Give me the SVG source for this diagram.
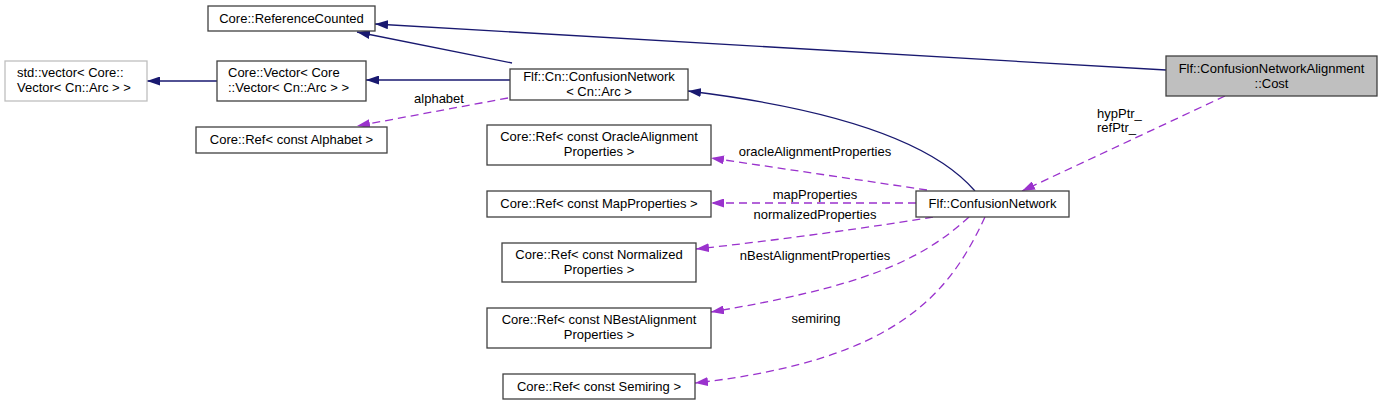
<svg xmlns="http://www.w3.org/2000/svg" width="1383" height="405" viewBox="0 0 1383 405">
<style>
text{font-family:"Liberation Sans",Arial,sans-serif;font-size:13px;fill:#000}
.c{text-anchor:middle}
.n{fill:#fff;stroke:#404040;stroke-width:1.3}
.g{fill:#fff;stroke:#bfbfbf;stroke-width:1.3}
.h{fill:#bfbfbf;stroke:#404040;stroke-width:1.3}
.inh{fill:none;stroke:#191970;stroke-width:1.3;marker-end:url(#an)}
.use{fill:none;stroke:#9a32cd;stroke-width:1.3;stroke-dasharray:8,5;marker-end:url(#ap)}
</style>
<defs>
<marker id="an" viewBox="0 0 13 9" refX="13" refY="4.5" markerWidth="13" markerHeight="9" markerUnits="userSpaceOnUse" orient="auto"><path d="M0,0 L13,4.5 L0,9 z" fill="#191970"/></marker>
<marker id="ap" viewBox="0 0 13 9" refX="13" refY="4.5" markerWidth="13" markerHeight="9" markerUnits="userSpaceOnUse" orient="auto"><path d="M0,0 L13,4.5 L0,9 z" fill="#9a32cd"/></marker>
</defs>
<rect width="1383" height="405" fill="#fff"/>
<g id="connectors">
<path class="inh" d="M1166,70 L375,24"/>
<path class="inh" d="M512,63 L357,32"/>
<path class="inh" d="M510,80 L366,80"/>
<path class="inh" d="M217,81 L147,81"/>
<path class="use" d="M508,98 L357,126"/>
<text x="439" y="103" class="c">alphabet</text>
<path class="inh" d="M975,191 C940,150 860,112 688,91"/>
<path class="use" d="M1225,96 L1022,191"/>
<text x="1097" y="118">hypPtr_</text>
<text x="1097" y="132">refPtr_</text>
<path class="use" d="M927,190 L711,158"/>
<text x="815" y="156" class="c">oracleAlignmentProperties</text>
<path class="use" d="M916,203 L711,203"/>
<text x="815" y="199" class="c">mapProperties</text>
<path class="use" d="M933,217 C880,226 780,240 696,249"/>
<text x="815" y="219" class="c">normalizedProperties</text>
<path class="use" d="M969,217 C920,262 860,287 711,312"/>
<text x="815" y="260" class="c">nBestAlignmentProperties</text>
<path class="use" d="M985,217 C950,292 900,360 695,383"/>
<text x="816" y="323" class="c">semiring</text>
</g>
<g id="cost"><rect class="h" x="1166" y="56" width="211" height="40"/><text x="1271.5" y="73" class="c">Flf::ConfusionNetworkAlignment</text><text x="1271.5" y="88" class="c">::Cost</text></g>
<g id="refcounted"><rect class="n" x="208" y="6" width="167" height="25"/><text x="291.5" y="22.5" class="c">Core::ReferenceCounted</text></g>
<g id="stdvector"><rect class="g" x="5" y="61" width="142" height="40"/><text x="17" y="77">std::vector&lt; Core::</text><text x="17" y="92">Vector&lt; Cn::Arc &gt; &gt;</text></g>
<g id="corevector"><rect class="n" x="217" y="61" width="149" height="40"/><text x="228" y="77">Core::Vector&lt; Core</text><text x="228" y="92">::Vector&lt; Cn::Arc &gt; &gt;</text></g>
<g id="alphabet"><rect class="n" x="196" y="127" width="191" height="26"/><text x="291.5" y="144" class="c">Core::Ref&lt; const Alphabet &gt;</text></g>
<g id="flfcn"><rect class="n" x="510" y="69" width="178" height="31"/><text x="599" y="81" class="c">Flf::Cn::ConfusionNetwork</text><text x="599" y="96" class="c">&lt; Cn::Arc &gt;</text></g>
<g id="oracle"><rect class="n" x="487" y="125" width="224" height="40"/><text x="599" y="141" class="c">Core::Ref&lt; const OracleAlignment</text><text x="599" y="156" class="c">Properties &gt;</text></g>
<g id="map"><rect class="n" x="487" y="191" width="224" height="26"/><text x="599" y="208" class="c">Core::Ref&lt; const MapProperties &gt;</text></g>
<g id="normalized"><rect class="n" x="502" y="243" width="194" height="39"/><text x="599" y="259" class="c">Core::Ref&lt; const Normalized</text><text x="599" y="274" class="c">Properties &gt;</text></g>
<g id="nbest"><rect class="n" x="487" y="308" width="224" height="40"/><text x="599" y="324" class="c">Core::Ref&lt; const NBestAlignment</text><text x="599" y="339" class="c">Properties &gt;</text></g>
<g id="semiring"><rect class="n" x="503" y="374" width="192" height="25"/><text x="599" y="391" class="c">Core::Ref&lt; const Semiring &gt;</text></g>
<g id="flfconfusion"><rect class="n" x="916" y="191" width="153" height="26"/><text x="992.5" y="208" class="c">Flf::ConfusionNetwork</text></g>
</svg>
